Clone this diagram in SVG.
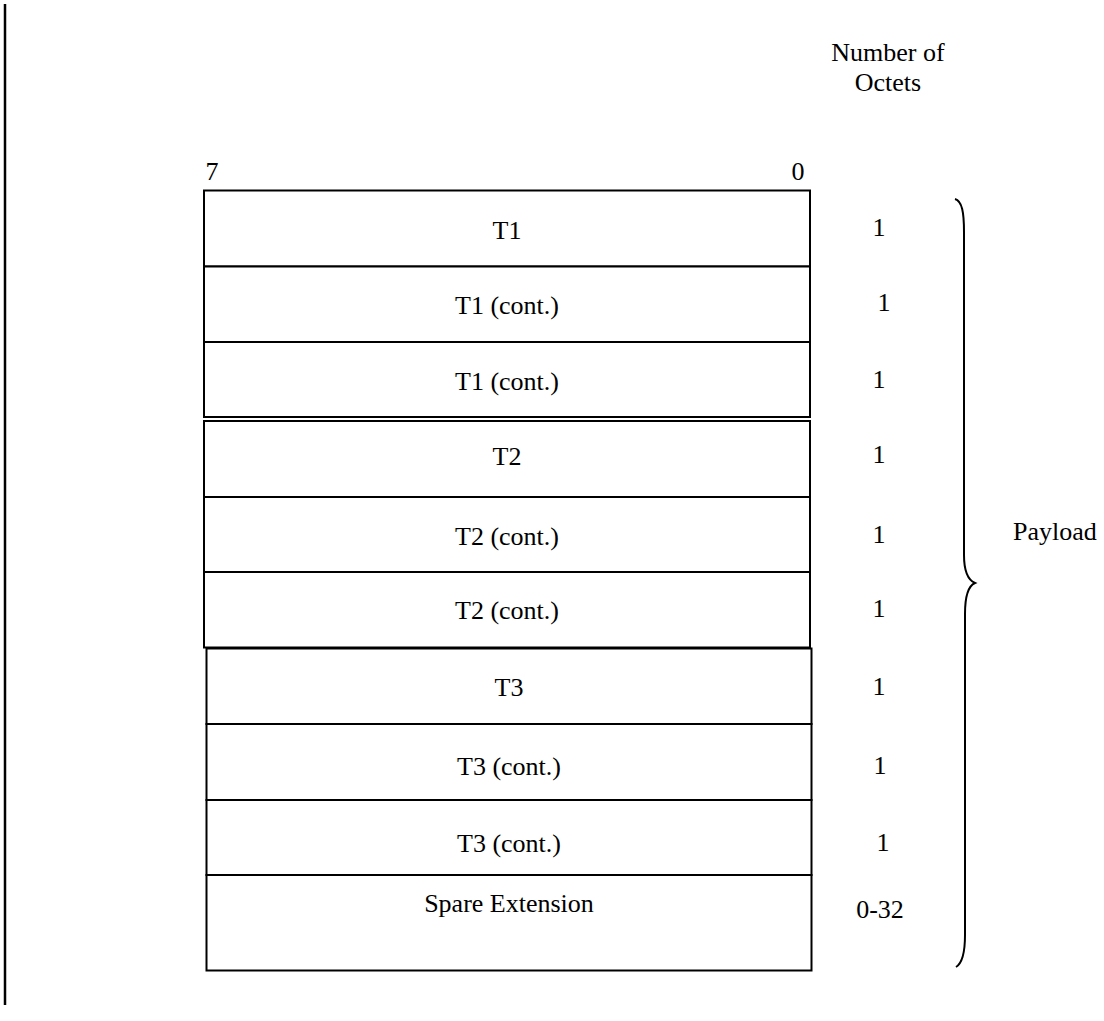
<svg xmlns="http://www.w3.org/2000/svg" width="1104" height="1021" viewBox="0 0 1104 1021">
<style>
.t{font-family:"Liberation Serif","Times New Roman",serif;font-size:26px;fill:#000;text-anchor:middle}
.b{fill:#fff;stroke:#000;stroke-width:2}
.l{stroke:#000;stroke-width:2;fill:none}
</style>
<rect x="0" y="0" width="1104" height="1021" fill="#fff"/>
<line x1="5" y1="4" x2="5" y2="1005" stroke="#000" stroke-width="2.5"/>
<g id="header">
<text class="t" x="888" y="61">Number of</text>
<text class="t" x="888" y="91">Octets</text>
<text class="t" x="212" y="180">7</text>
<text class="t" x="798" y="180">0</text>
</g>
<g id="t1">
<rect class="b" x="204" y="190.5" width="606" height="76"/>
<text class="t" x="507" y="239">T1</text>
<text class="t" x="879" y="236">1</text>
</g>
<g id="t1c1">
<rect class="b" x="204" y="266.5" width="606" height="75.5"/>
<text class="t" x="507" y="314">T1 (cont.)</text>
<text class="t" x="884" y="311">1</text>
</g>
<g id="t1c2">
<rect class="b" x="204" y="342" width="606" height="75"/>
<text class="t" x="507" y="390">T1 (cont.)</text>
<text class="t" x="879" y="388">1</text>
</g>
<g id="t2">
<rect class="b" x="204" y="421" width="606" height="76"/>
<text class="t" x="507" y="465">T2</text>
<text class="t" x="879" y="463">1</text>
</g>
<g id="t2c1">
<rect class="b" x="204" y="497" width="606" height="75"/>
<text class="t" x="507" y="545">T2 (cont.)</text>
<text class="t" x="879" y="543">1</text>
</g>
<g id="t2c2">
<rect class="b" x="204" y="572" width="606" height="75.5"/>
<text class="t" x="507" y="619">T2 (cont.)</text>
<text class="t" x="879" y="617">1</text>
</g>
<g id="t3">
<rect class="b" x="206.5" y="648.5" width="605" height="75.5"/>
<text class="t" x="509" y="696">T3</text>
<text class="t" x="879" y="695">1</text>
</g>
<g id="t3c1">
<rect class="b" x="206.5" y="724" width="605" height="76"/>
<text class="t" x="509" y="775">T3 (cont.)</text>
<text class="t" x="880" y="774">1</text>
</g>
<g id="t3c2">
<rect class="b" x="206.5" y="800" width="605" height="75"/>
<text class="t" x="509" y="852">T3 (cont.)</text>
<text class="t" x="883" y="851">1</text>
</g>
<g id="spare">
<rect class="b" x="206.5" y="875" width="605" height="95.5"/>
<text class="t" x="509" y="912">Spare Extension</text>
<text class="t" x="880" y="918">0-32</text>
</g>
<g id="connectors">
<path class="l" d="M955,199 C962,201 964,212 964,232 L964,555 C964,572 968,580 975,583 C968,586 965,596 965,614 L965,935 C965,955 961,964 956,967"/>
</g>
<g id="payload">
<text class="t" x="1013" y="540" style="text-anchor:start">Payload</text>
</g>
</svg>
